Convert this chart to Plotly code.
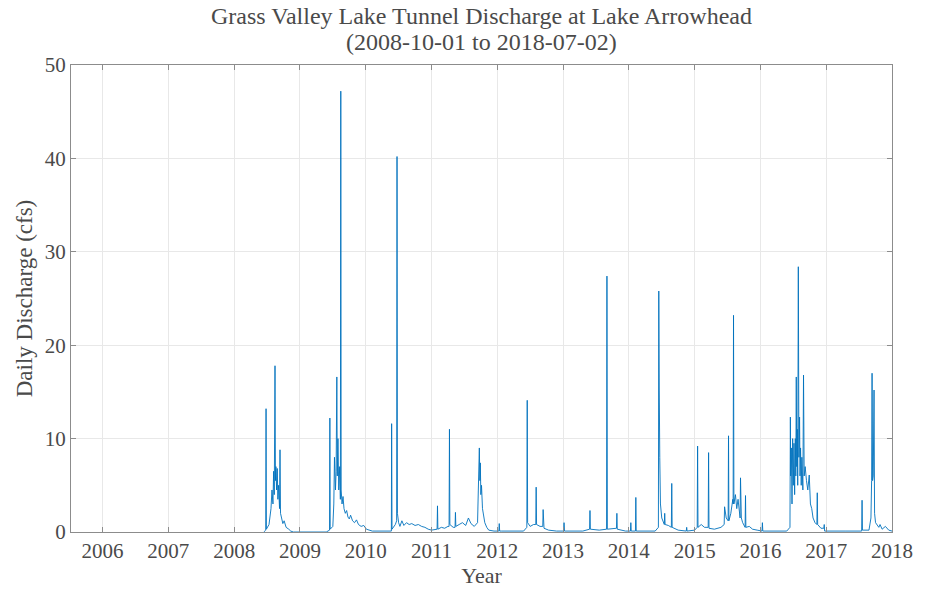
import plotly.graph_objects as go

# Daily discharge record, sampled at the notable points of each runoff season.
# year: decimal year, cfs: daily discharge
year = [
    2008.450, 2008.480, 2008.485, 2008.490, 2008.530, 2008.560, 2008.575, 2008.590,
    2008.600, 2008.610, 2008.621, 2008.628, 2008.635, 2008.645, 2008.655, 2008.665,
    2008.675, 2008.690, 2008.697, 2008.705, 2008.720, 2008.740, 2008.760, 2008.790,
    2008.830, 2008.860, 2008.900,
    2009.400, 2009.450, 2009.455, 2009.460, 2009.500, 2009.515, 2009.525, 2009.540,
    2009.550, 2009.561, 2009.568, 2009.578, 2009.590, 2009.605, 2009.615, 2009.621,
    2009.627, 2009.640, 2009.655, 2009.670, 2009.690, 2009.710, 2009.730, 2009.750,
    2009.770, 2009.800, 2009.830, 2009.860, 2009.890, 2009.930, 2009.970, 2010.010,
    2010.100, 2010.300,
    2010.390, 2010.394, 2010.400, 2010.450, 2010.470, 2010.476, 2010.482, 2010.500,
    2010.520, 2010.550, 2010.580, 2010.620, 2010.660, 2010.700, 2010.750, 2010.800,
    2010.850, 2010.900, 2010.950, 2011.000, 2011.050, 2011.085, 2011.091, 2011.097,
    2011.150, 2011.200, 2011.250, 2011.267, 2011.273, 2011.279, 2011.330, 2011.358,
    2011.364, 2011.370, 2011.420, 2011.470, 2011.520, 2011.561, 2011.600, 2011.650,
    2011.700, 2011.715, 2011.727, 2011.735, 2011.742, 2011.750, 2011.760, 2011.775,
    2011.790, 2011.810, 2011.840, 2011.870, 2011.950, 2012.024, 2012.030, 2012.036,
    2012.060, 2012.400,
    2012.449, 2012.455, 2012.461, 2012.500, 2012.550, 2012.585, 2012.591, 2012.597,
    2012.650, 2012.691, 2012.697, 2012.710, 2012.780, 2012.900, 2013.009, 2013.015,
    2013.021, 2013.300, 2013.403, 2013.409, 2013.415, 2013.550, 2013.661, 2013.667,
    2013.673, 2013.770, 2013.812, 2013.818, 2013.824, 2013.950, 2014.024, 2014.030,
    2014.036, 2014.100, 2014.106, 2014.112, 2014.400,
    2014.449, 2014.455, 2014.462, 2014.470, 2014.480, 2014.500, 2014.539, 2014.545,
    2014.551, 2014.600, 2014.646, 2014.652, 2014.658, 2014.750, 2014.873, 2014.879,
    2014.885, 2015.000, 2015.039, 2015.045, 2015.051, 2015.100, 2015.150, 2015.206,
    2015.212, 2015.218, 2015.300, 2015.400, 2015.449, 2015.455, 2015.480, 2015.509,
    2015.515, 2015.521, 2015.550, 2015.580, 2015.585, 2015.591, 2015.597, 2015.620,
    2015.640, 2015.660, 2015.691, 2015.697, 2015.710, 2015.730, 2015.767, 2015.773,
    2015.779, 2015.830, 2015.880, 2015.950, 2016.024, 2016.030, 2016.036, 2016.400,
    2016.449, 2016.455, 2016.460, 2016.470, 2016.480, 2016.490, 2016.500, 2016.510,
    2016.520, 2016.530, 2016.538, 2016.545, 2016.552, 2016.560, 2016.567, 2016.576,
    2016.585, 2016.595, 2016.602, 2016.610, 2016.620, 2016.630, 2016.645, 2016.655,
    2016.665, 2016.680, 2016.700, 2016.720, 2016.742, 2016.760, 2016.780, 2016.800,
    2016.830, 2016.858, 2016.864, 2016.870, 2016.920, 2016.964, 2016.970, 2016.976,
    2017.300, 2017.539, 2017.545, 2017.551, 2017.650, 2017.680, 2017.690, 2017.697,
    2017.705, 2017.715, 2017.727, 2017.735, 2017.750, 2017.800, 2017.818, 2017.850,
    2017.900, 2017.950, 2018.000,
]
cfs = [
    0.0, 0.2, 13.2, 0.3, 0.8, 2.5, 4.5, 3.0,
    6.5, 4.0, 17.8, 5.5, 7.0, 4.5, 6.8, 3.5,
    5.0, 2.5, 8.8, 2.0, 1.5, 0.9, 1.2, 0.5,
    0.3, 0.1, 0.0,
    0.0, 0.2, 12.2, 0.3, 0.6, 3.0, 8.0, 4.5,
    6.5, 16.6, 6.0, 10.0, 4.5, 7.0, 3.5, 47.2,
    4.5, 3.0, 3.8, 2.5, 2.0, 2.3, 1.6, 1.4,
    1.8, 1.2, 1.0, 1.3, 0.8, 0.6, 0.7, 0.3,
    0.1, 0.1,
    0.1, 11.6, 0.3, 0.8, 1.2, 40.2, 2.0, 1.0,
    0.6, 1.2, 0.7, 1.0, 0.8, 0.9, 0.7, 0.8,
    0.6, 0.5, 0.3, 0.2, 0.3, 0.3, 2.8, 0.3,
    0.5, 0.4, 0.6, 0.6, 11.0, 0.8, 0.5, 0.5,
    2.1, 0.6, 0.8, 1.0, 0.7, 1.5, 0.9, 0.6,
    1.0, 4.5, 9.0, 5.5, 7.4, 4.0, 5.0, 2.5,
    1.8, 1.0, 0.5, 0.2, 0.1, 0.1, 0.9, 0.1,
    0.1, 0.1,
    0.5, 14.1, 1.0, 0.6, 0.8, 0.8, 4.8, 0.8,
    0.6, 0.6, 2.4, 0.4, 0.2, 0.1, 0.1, 1.0,
    0.1, 0.1, 0.3, 2.3, 0.3, 0.2, 0.3, 27.4,
    0.3, 0.4, 0.4, 2.0, 0.3, 0.1, 0.1, 1.0,
    0.1, 0.1, 3.7, 0.1, 0.1,
    0.5, 25.8, 15.2, 8.0, 3.0, 1.5, 0.8, 2.0,
    0.8, 0.7, 0.5, 5.2, 0.5, 0.2, 0.1, 0.5,
    0.1, 0.2, 0.5, 9.2, 0.5, 0.8, 0.5, 0.5,
    8.5, 0.4, 0.3, 0.5, 0.8, 2.7, 1.5, 1.2,
    10.3, 1.2, 2.0, 3.5, 3.0, 23.2, 3.0, 4.0,
    2.5, 3.5, 1.5, 5.8, 1.5, 1.0, 0.5, 3.9,
    0.5, 0.6, 0.3, 0.2, 0.1, 1.0, 0.1, 0.1,
    0.5, 12.3, 6.0, 9.0, 3.0, 10.0, 5.0, 9.5,
    4.0, 10.0, 6.0, 16.6, 7.0, 11.0, 5.0, 28.4,
    8.0, 12.3, 6.0, 9.0, 5.0, 8.0, 4.5, 16.8,
    6.0, 7.0, 5.5, 4.5, 6.1, 3.0, 2.5, 1.5,
    1.0, 0.8, 4.2, 0.8, 0.4, 0.4, 0.8, 0.1,
    0.1, 0.1, 3.4, 0.2, 0.2, 1.5, 5.5, 17.0,
    5.5, 6.0, 15.2, 2.0, 1.0, 0.5, 0.8, 0.3,
    0.6, 0.2, 0.1,
]

year_ticks = list(range(2006, 2019))
discharge_ticks = [0, 10, 20, 30, 40, 50]

title_lines = [
    "Grass Valley Lake Tunnel Discharge at Lake Arrowhead",
    "(2008-10-01 to 2018-07-02)",
]

serif = "Liberation Serif, Times New Roman, serif"
axis_grey = "#8c8c8c"
text_grey = "#4a4a4a"

fig = go.Figure(
    go.Scatter(
        x=year,
        y=cfs,
        mode="lines",
        line=dict(color="#0072BD", width=0.9),
        showlegend=False,
        hoverinfo="x+y",
    )
)

axis_common = dict(
    showline=True,
    linecolor=axis_grey,
    linewidth=1,
    mirror="ticks",
    ticks="inside",
    ticklen=5,
    tickcolor=axis_grey,
    showgrid=True,
    gridcolor="#e8e8e8",
    gridwidth=1,
    zeroline=False,
    tickfont=dict(family=serif, size=21, color=text_grey),
)

fig.update_xaxes(
    **axis_common,
    range=[2005.52, 2018.0],
    tickvals=year_ticks,
    ticktext=[str(y) for y in year_ticks],
    title=dict(text="Year", font=dict(family=serif, size=22, color=text_grey), standoff=2),
)
fig.update_yaxes(
    **axis_common,
    range=[0, 50],
    tickvals=discharge_ticks,
    title=dict(text="Daily Discharge (cfs)", font=dict(family=serif, size=23, color=text_grey), standoff=5),
)

# Two-line title centred over the axes
for line_text, y_pos in zip(title_lines, [1.105, 1.049]):
    fig.add_annotation(
        text=line_text,
        xref="paper", yref="paper",
        x=0.5, y=y_pos,
        xanchor="center", yanchor="middle",
        showarrow=False,
        font=dict(family=serif, size=24, color=text_grey),
    )

fig.update_layout(
    width=925,
    height=595,
    margin=dict(l=71, r=30, t=65, b=63),
    paper_bgcolor="white",
    plot_bgcolor="white",
)

fig.write_html("out.html")
